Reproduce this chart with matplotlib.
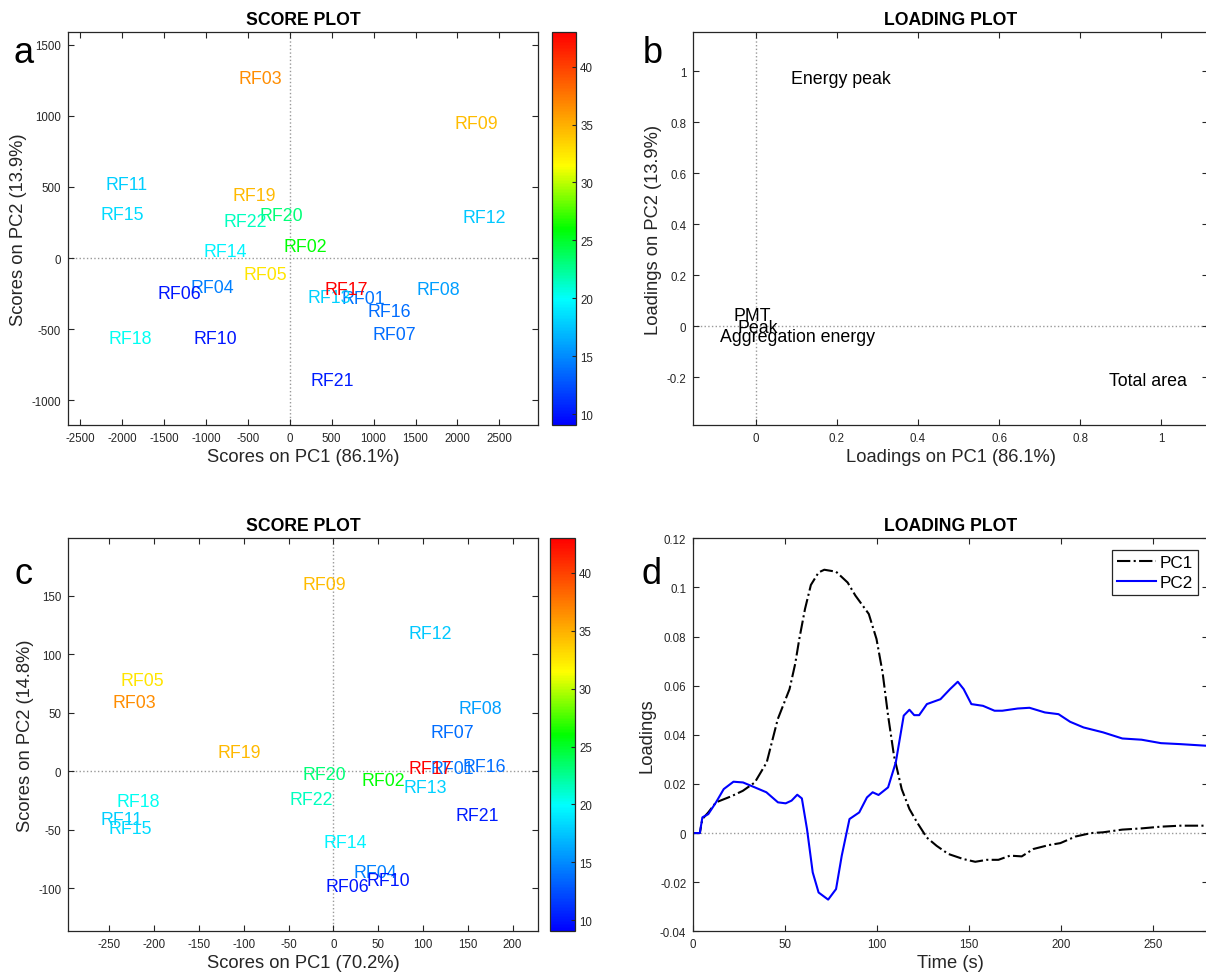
import numpy as np
import matplotlib.pyplot as plt
from matplotlib.colors import LinearSegmentedColormap, Normalize
from matplotlib.cm import ScalarMappable

plt.rcParams['font.family'] = ['Liberation Sans', 'DejaVu Sans']
plt.rcParams['axes.unicode_minus'] = False

# sample names and colour variable
samples = ['RF01', 'RF02', 'RF03', 'RF04', 'RF05', 'RF06', 'RF07', 'RF08', 'RF09', 'RF10', 'RF11',
           'RF12', 'RF13', 'RF14', 'RF15', 'RF16', 'RF17', 'RF18', 'RF19', 'RF20', 'RF21', 'RF22']
color_val = [14.0, 26.0, 36.6, 14.6, 32.6, 10.0, 13.7, 15.9, 34.4, 10.0, 17.8,
             17.6, 18.0, 19.5, 18.4, 13.7, 43.0, 20.2, 34.6, 23.1, 10.3, 21.5]

# panel a: scores (first PCA)
a_pc1 = [621, -69, -611, -1186, -548, -1579, 990, 1510, 1962, -1150, -2199,
         2058, 210, -1022, -2254, 930, 415, -2163, -685, -361, 246, -794]
a_pc2 = [-288, 80, 1264, -208, -114, -246, -536, -222, 943, -564, 519,
         287, -279, 48, 305, -374, -218, -569, 438, 298, -862, 256]

# panel b: loadings
b_vars = ['Energy peak', 'PMT', 'Peak', 'Aggregation energy', 'Total area']
b_pc1 = [0.088, -0.055, -0.046, -0.087, 0.871]
b_pc2 = [0.970, 0.044, -0.004, -0.041, -0.213]

# panel c: scores (second PCA)
c_pc1 = [108.7, 31.8, -247, 22.4, -238, -9.2, 109, 139.8, -34.8, 36.9, -259.4,
         84.3, 78.8, -10.9, -250.9, 143.7, 84.3, -242.3, -129.6, -34.4, 136.4, -48.9]
c_pc2 = [2.5, -8.3, 58.6, -86.9, 77.7, -98.3, 33.5, 53.5, 159.4, -93.2, -41.6,
         117.5, -14, -61, -49, 4.2, 2, -26, 16.2, -2.6, -37.7, -23.7]

# panel d: loading curves
t_pc1 = [0, 3.6, 5, 8.2, 12.4, 20.8, 27, 33.5, 40, 46, 52.4, 55.5, 57.7, 60.8, 64, 68.2, 71.3,
         77.7, 84, 88.2, 95.5, 99.7, 103, 106, 109.2, 113.4, 117.6, 121.8, 127, 132.4, 138.7,
         147, 153.4, 159.7, 166, 172.3, 178.7, 185, 193.4, 199.7, 208, 216.5, 222.9, 233.4,
         243.9, 254.4, 265, 280]
pc1 = [0, 0, 0.0057, 0.0084, 0.0125, 0.015, 0.0172, 0.0206, 0.0288, 0.0464, 0.0586, 0.069,
       0.079, 0.0912, 0.101, 0.1061, 0.1072, 0.1064, 0.102, 0.0967, 0.0892, 0.079, 0.0654,
       0.0478, 0.0315, 0.0179, 0.0098, 0.0043, -0.0018, -0.0052, -0.0085, -0.0106, -0.0117,
       -0.0109, -0.0109, -0.0092, -0.0095, -0.0065, -0.0049, -0.0041, -0.0014, 0, 0.0003,
       0.0014, 0.0019, 0.0026, 0.003, 0.003]
t_pc2 = [0, 3.6, 5, 8.2, 12.4, 16.6, 21.9, 27.1, 33.5, 39.8, 46.1, 50.3, 53.5, 56.6, 59.1, 61.9,
         65, 68.2, 73.4, 77.7, 80.8, 85, 90.3, 94.5, 97.6, 100.8, 106, 110.2, 114.5, 117.6,
         120.2, 122.9, 127.1, 134.5, 139.7, 143.9, 147.1, 151.3, 157.6, 163.9, 168.1, 176.5,
         182.9, 191.3, 198.7, 205, 212.3, 222.9, 233.4, 243.9, 254.4, 265, 280]
pc2 = [0, 0, 0.0064, 0.0077, 0.0125, 0.0179, 0.0209, 0.0206, 0.0186, 0.0166, 0.0125, 0.0121,
       0.0132, 0.0156, 0.0141, 0.0016, -0.016, -0.0242, -0.0271, -0.0228, -0.0092, 0.0057,
       0.0084, 0.0145, 0.0166, 0.0155, 0.0186, 0.0288, 0.0478, 0.0502, 0.048, 0.048, 0.0525,
       0.0545, 0.0586, 0.0616, 0.0586, 0.0525, 0.0518, 0.0498, 0.0498, 0.0507, 0.051, 0.0491,
       0.0484, 0.0453, 0.043, 0.041, 0.0385, 0.038, 0.0366, 0.0362, 0.0355]

AX_COL = '#262626'
cmap = LinearSegmentedColormap.from_list(
    'jetlike', [(0, '#0000ff'), (0.32, '#00ffff'), (0.5, '#00ff00'), (0.66, '#ffff00'), (1, '#ff0000')])
norm = Normalize(9.05, 42.97)


def style_axes(ax, vline=True):
    for s in ax.spines.values():
        s.set_color(AX_COL)
        s.set_linewidth(0.9)
    ax.tick_params(direction='in', top=True, right=True, length=4, width=0.8,
                   labelsize=8.3, colors=AX_COL, pad=5)
    ax.axhline(0, color='#999999', linestyle=':', linewidth=1, zorder=0)
    if vline:
        ax.axvline(0, color='#999999', linestyle=':', linewidth=1, zorder=0)


def colorbar(fig, rect):
    cax = fig.add_axes(rect)
    cb = fig.colorbar(ScalarMappable(norm=norm, cmap=cmap), cax=cax)
    cb.set_ticks([10, 15, 20, 25, 30, 35, 40])
    cb.ax.tick_params(direction='in', length=3, width=0.8, labelsize=8.3, colors=AX_COL, pad=3)
    cb.outline.set_edgecolor(AX_COL)
    cb.outline.set_linewidth(0.9)


fig = plt.figure(figsize=(12.06, 9.79), dpi=100)
W, H = 1206, 979


def rect(l, t, r, b):
    return [l / W, 1 - b / H, (r - l) / W, (b - t) / H]


# ---- a: score plot
ax = fig.add_axes(rect(68.1, 33.3, 538.5, 426))
style_axes(ax)
for name, x, y, c in zip(samples, a_pc1, a_pc2, color_val):
    ax.text(x, y, name, color=cmap(norm(c)), fontsize=12.8, ha='left', va='center')
ax.set_xlim(-2642, 2966)
ax.set_ylim(-1174, 1587)
ax.set_xticks(np.arange(-2500, 2501, 500))
ax.set_yticks(np.arange(-1000, 1501, 500))
ax.set_title('SCORE PLOT', fontsize=12.7, fontweight='bold', pad=6)
ax.set_xlabel('Scores on PC1 (86.1%)', fontsize=13.2, color=AX_COL, labelpad=3)
ax.set_ylabel('Scores on PC2 (13.9%)', fontsize=13.2, color=AX_COL, labelpad=3)
colorbar(fig, rect(552.2, 33.3, 576, 426))

# ---- b: loading plot
ax = fig.add_axes(rect(693.2, 33.3, 1208, 426))
style_axes(ax)
for name, x, y in zip(b_vars, b_pc1, b_pc2):
    ax.text(x, y, name, color='black', fontsize=12.8, ha='left', va='center')
ax.set_xlim(-0.154, 1.115)
ax.set_ylim(-0.387, 1.153)
ax.set_xticks([0, 0.2, 0.4, 0.6, 0.8, 1])
ax.set_xticklabels(['0', '0.2', '0.4', '0.6', '0.8', '1'])
ax.set_yticks([-0.2, 0, 0.2, 0.4, 0.6, 0.8, 1])
ax.set_yticklabels(['-0.2', '0', '0.2', '0.4', '0.6', '0.8', '1'])
ax.set_title('LOADING PLOT', fontsize=12.7, fontweight='bold', pad=6)
ax.set_xlabel('Loadings on PC1 (86.1%)', fontsize=13.2, color=AX_COL, labelpad=3)
ax.set_ylabel('Loadings on PC2 (13.9%)', fontsize=13.2, color=AX_COL, labelpad=3)

# ---- c: score plot
ax = fig.add_axes(rect(68.1, 539.3, 538.5, 932.3))
style_axes(ax)
for name, x, y, c in zip(samples, c_pc1, c_pc2, color_val):
    ax.text(x, y, name, color=cmap(norm(c)), fontsize=12.8, ha='left', va='center')
ax.set_xlim(-296, 229)
ax.set_ylim(-136.7, 199)
ax.set_xticks(np.arange(-250, 201, 50))
ax.set_yticks(np.arange(-100, 151, 50))
ax.set_title('SCORE PLOT', fontsize=12.7, fontweight='bold', pad=6)
ax.set_xlabel('Scores on PC1 (70.2%)', fontsize=13.2, color=AX_COL, labelpad=3)
ax.set_ylabel('Scores on PC2 (14.8%)', fontsize=13.2, color=AX_COL, labelpad=3)
colorbar(fig, rect(550.3, 539.3, 574.8, 932.3))

# ---- d: loading curves
ax = fig.add_axes(rect(693.2, 539.3, 1208, 932.3))
style_axes(ax, vline=False)
ax.plot(t_pc1, pc1, color='black', linestyle='-.', linewidth=1.5, label='PC1')
ax.plot(t_pc2, pc2, color='#0000ff', linestyle='-', linewidth=1.5, label='PC2')
ax.set_xlim(0, 280)
ax.set_ylim(-0.04, 0.12)
ax.set_xticks([0, 50, 100, 150, 200, 250])
ax.set_yticks([-0.04, -0.02, 0, 0.02, 0.04, 0.06, 0.08, 0.1, 0.12])
ax.set_yticklabels(['-0.04', '-0.02', '0', '0.02', '0.04', '0.06', '0.08', '0.1', '0.12'])
ax.set_title('LOADING PLOT', fontsize=12.7, fontweight='bold', pad=6)
ax.set_xlabel('Time (s)', fontsize=13.2, color=AX_COL, labelpad=3)
ax.set_ylabel('Loadings', fontsize=13.2, color=AX_COL, labelpad=3)
leg = ax.legend(loc='upper right', bbox_to_anchor=(1198 / W, 1 - 551 / H), bbox_transform=fig.transFigure,
                fontsize=12.3, fancybox=False, framealpha=1, edgecolor=AX_COL,
                handlelength=2.3, handletextpad=0.2, borderpad=0.3, labelspacing=0.3, borderaxespad=0)
leg.get_frame().set_linewidth(0.9)

# panel letters
for letter, x, y in [('a', 13.4, 62.7), ('b', 642.5, 63.3), ('c', 14.5, 584.3), ('d', 641.7, 584.3)]:
    fig.text(x / W, 1 - y / H, letter, fontsize=26, va='baseline', ha='left', color='black')

fig.savefig('out.png', dpi=100)
